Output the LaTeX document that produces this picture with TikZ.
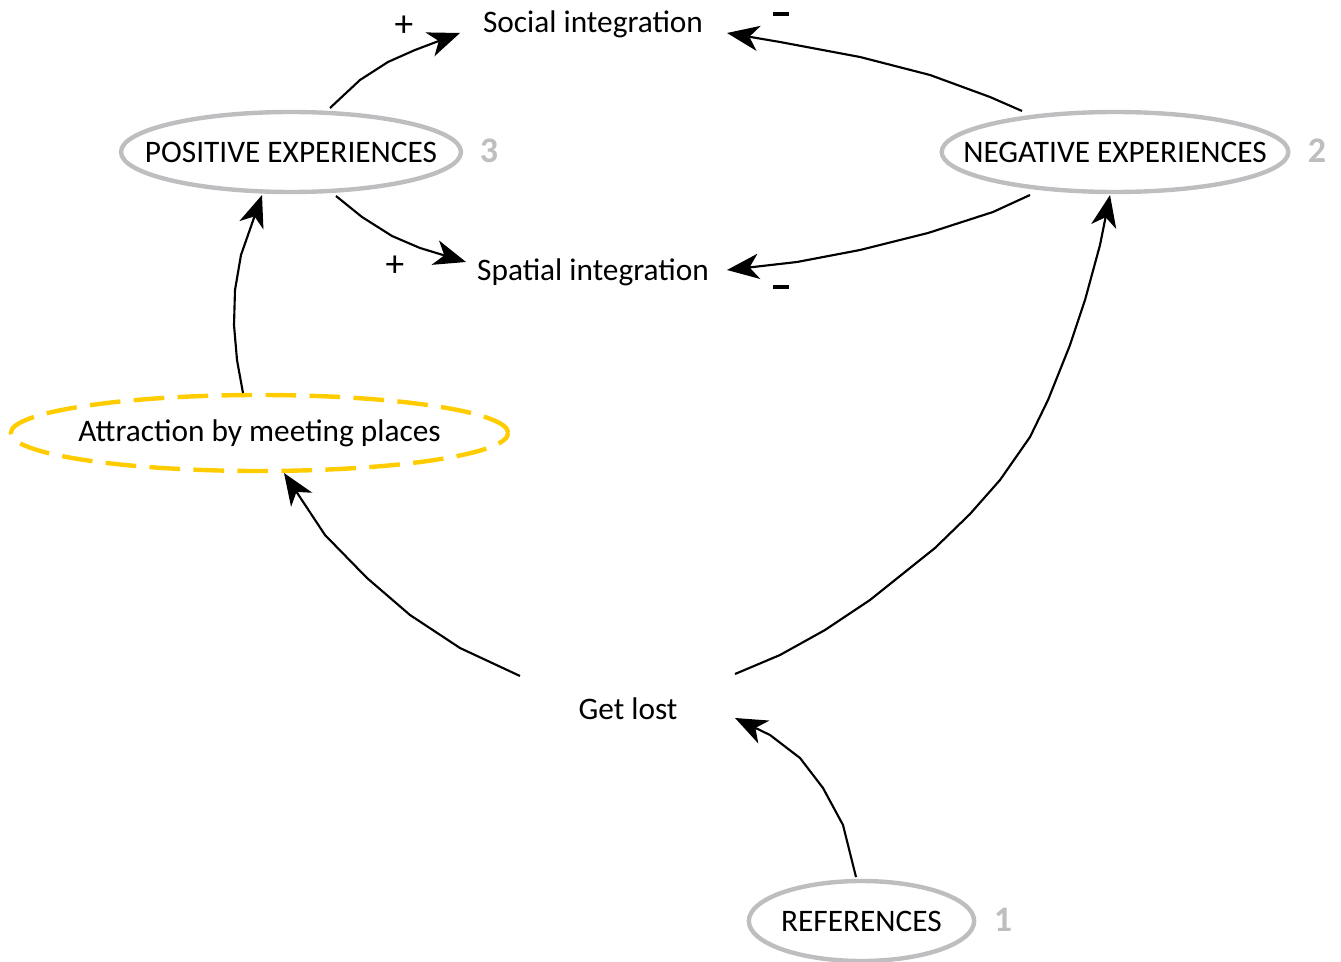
\documentclass[tikz,border=0pt]{standalone}
\usepackage{fontspec}
\setmainfont{Carlito}
\usetikzlibrary{arrows.meta,shapes.geometric,calc}
\definecolor{ringgray}{RGB}{190,190,193}
\definecolor{meetyellow}{RGB}{255,204,0}
\tikzset{
  every node/.style={font=\fontsize{23.5}{28}\selectfont},
  ring/.style={ellipse, draw=ringgray, line width=3.3pt, inner sep=0pt},
  meetring/.style={ellipse, draw=meetyellow, line width=3.3pt, inner sep=0pt,
    dash pattern=on 23pt off 10pt},
  plain/.style={inner sep=0pt},
  conn/.style={line width=1.6pt, line join=round,
    -{Stealth[length=24pt, width=19pt, inset=7pt]}},
  plus/.style={font=\fontsize{28}{30}\selectfont, inner sep=0pt},
  minus/.style={fill=black, inner sep=0pt, minimum width=12pt, minimum height=2.4pt},
  idx/.style={text=ringgray, font=\fontsize{27}{30}\selectfont\bfseries}
}
\begin{document}
\begin{tikzpicture}[x=0.75pt, y=-0.75pt]
\useasboundingbox (0,0) rectangle (1341,962);

% outcomes
\node[plain] (soc) at (593,24) {Social integration};
\node[plain] (spa) at (593,272) {Spatial integration};

% experience rings
\node[ring, minimum width=255pt, minimum height=60pt] (pos) at (291,152)
  {\makebox[0pt]{POSITIVE EXPERIENCES}};
\node[ring, minimum width=260pt, minimum height=60pt] (neg) at (1115,152)
  {\makebox[0pt]{NEGATIVE EXPERIENCES}};
\node[meetring, minimum width=373pt, minimum height=57pt] (attr) at (259.5,433)
  {\makebox[0pt]{Attraction by meeting places}};
\node[plain] (gl) at (628,709) {Get lost};
\node[ring, minimum width=169pt, minimum height=60pt] (ref) at (861.5,921)
  {\makebox[0pt]{REFERENCES}};

% step numbers
\node[idx] (n3) at (489,151) {3};
\node[idx] (n2) at (1317,151) {2};
\node[idx] (n1) at (1003,920) {1};

% signs
\node[plus] (p1) at (404,26) {+};
\node[plus] (p2) at (395,266) {+};
\node[minus] (m1) at (781,14) {};
\node[minus] (m2) at (781,287) {};

% connectors
\draw[conn] ($(pos.center)+(39,-44)$) -- (360,80) -- (388,62) -- (415,50)
  -- ($(soc.center)+(-133,9)$);
\draw[conn] ($(pos.center)+(45,44)$) -- (362,217) -- (392,236) -- (420,248)
  -- ($(spa.center)+(-127,-10)$);
\draw[conn] ($(neg.center)+(-93,-41)$) -- (990,97) -- (930,75) -- (860,57)
  -- (780,42) -- ($(soc.center)+(134,9)$);
\draw[conn] ($(neg.center)+(-85,43)$) -- (993,212) -- (928,233) -- (860,250)
  -- (797,262) -- ($(spa.center)+(134,-2)$);
\draw[conn] ($(attr.center)+(-16.5,-40)$) -- (237,360) -- (234,325) -- (235,290)
  -- (241,255) -- ($(pos.center)+(-29,43)$);
\draw[conn] ($(gl.center)+(-108,-33)$) -- (460,648) -- (410,615) -- (367,578)
  -- (325,535) -- ($(attr.center)+(24.5,40)$);
\draw[conn] ($(gl.center)+(107,-35)$) -- (780,655) -- (825,630) -- (870,600)
  -- (935,548) -- (970,514) -- (1000,480) -- (1030,437) -- (1048,400)
  -- (1070,345) -- (1085,300) -- (1100,245) -- ($(neg.center)+(-5,43)$);
\draw[conn] ($(ref.center)+(-5.5,-44)$) -- (843,825) -- (823,788) -- (800,758)
  -- (770,735) -- ($(gl.center)+(107,9)$);
\end{tikzpicture}
\end{document}
